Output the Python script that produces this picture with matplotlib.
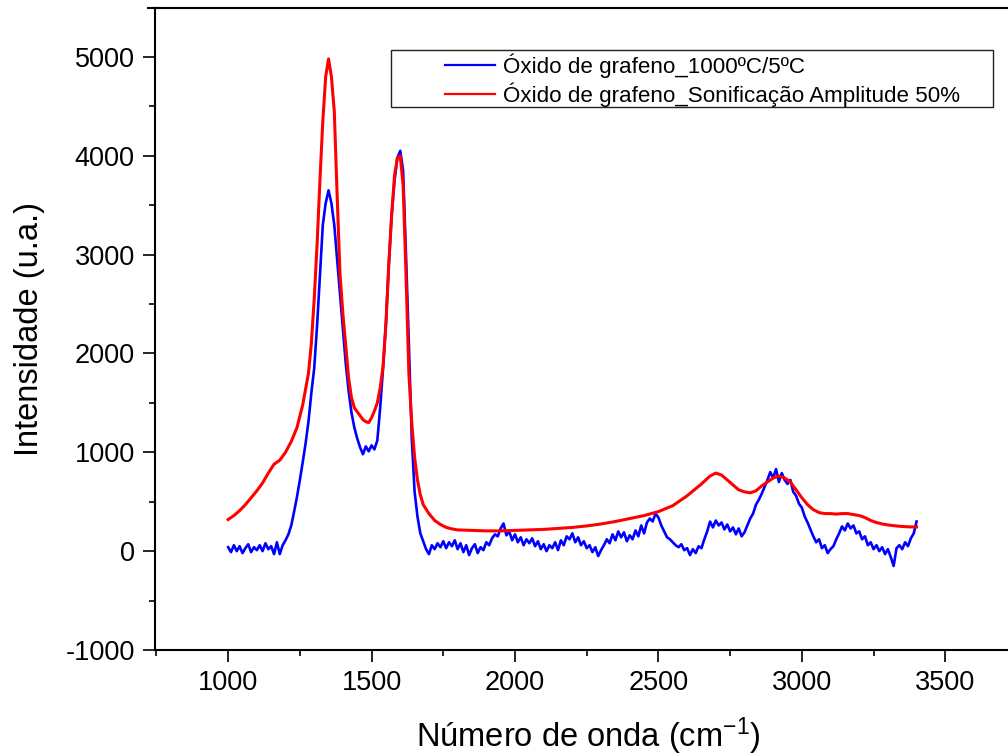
import numpy as np
import matplotlib
matplotlib.use("Agg")
import matplotlib.pyplot as plt
from matplotlib.patches import Rectangle
from matplotlib.lines import Line2D
from matplotlib.ticker import MultipleLocator

plt.rcParams['font.family'] = ['Liberation Sans', 'DejaVu Sans']
plt.rcParams['mathtext.fontset'] = 'custom'
plt.rcParams['mathtext.rm'] = 'Liberation Sans'
plt.rcParams['mathtext.it'] = 'Liberation Sans'
plt.rcParams['mathtext.bf'] = 'Liberation Sans'
plt.rcParams['axes.unicode_minus'] = False

# ---- data ----
label_blue = "Óxido de grafeno_1000ºC/5ºC"
label_red = "Óxido de grafeno_Sonificação Amplitude 50%"

blue_wavenumber = np.arange(1000, 3401, 10)
blue_intensity = [
    40, -10, 60, 0, 50, -20, 30, 70, -10, 40,
    10, 60, 0, 80, 20, 50, -30, 90, -30, 60,
    110, 170, 260, 400, 550, 720, 900, 1090, 1310, 1600,
    1850, 2280, 2800, 3300, 3520, 3650, 3520, 3300, 2950, 2600,
    2250, 1900, 1620, 1400, 1250, 1140, 1050, 980, 1060, 1010,
    1070, 1030, 1120, 1450, 1850, 2300, 2900, 3400, 3750, 3980,
    4050, 3850, 3000, 2100, 1150, 600, 350, 180, 100, 20,
    -30, 60, 20, 80, 40, 100, 30, 90, 50, 110,
    20, 80, -10, 60, -40, 30, 70, -20, 40, 10,
    90, 60, 130, 170, 150, 230, 280, 160, 200, 110,
    170, 90, 140, 60, 120, 80, 130, 50, 100, 20,
    70, 0, 60, 30, 90, 10, 110, 60, 150, 120,
    180, 90, 140, 60, 100, 30, 60, -10, 40, -50,
    10, 60, 120, 80, 170, 110, 200, 140, 190, 100,
    160, 120, 210, 150, 260, 180, 290, 330, 300, 380,
    340, 260, 200, 140, 120, 90, 60, 40, 70, 10,
    30, -40, 20, -20, 50, 30, 120, 200, 300, 240,
    310, 260, 290, 220, 270, 200, 240, 170, 230, 150,
    190, 260, 330, 380, 470, 520, 580, 650, 720, 800,
    740, 830, 700, 790, 720, 680, 720, 600, 560, 480,
    440, 350, 290, 220, 150, 90, 120, 30, 60, -20,
    20, 50, 120, 180, 250, 210, 280, 230, 260, 180,
    200, 120, 150, 60, 90, 20, 60, 0, 40, -30,
    20, -60, -150, 30, 60, 20, 90, 50, 130, 180,
    300,
]

red_wavenumber = [
    1000, 1020, 1040, 1060, 1080, 1100, 1120, 1140, 1160, 1180,
    1200, 1220, 1240, 1260, 1280, 1290, 1300, 1310, 1320, 1330, 1340,
    1350, 1360, 1370, 1380, 1390, 1400, 1410, 1420, 1430, 1440,
    1450, 1460, 1470, 1480, 1490, 1500, 1510, 1520, 1530, 1540,
    1550, 1560, 1570, 1580, 1590, 1600, 1610, 1620, 1630, 1640,
    1650, 1660, 1670, 1680, 1700, 1720, 1740, 1760, 1780, 1800,
    1850, 1900, 1950, 2000, 2050, 2100, 2150, 2200, 2250, 2300,
    2350, 2400, 2450, 2500, 2550, 2600, 2650, 2680, 2700, 2720,
    2740, 2760, 2780, 2800, 2820, 2840, 2860, 2880, 2900, 2920,
    2940, 2960, 2980, 3000, 3020, 3040, 3060, 3080, 3100, 3120,
    3140, 3160, 3180, 3200, 3220, 3240, 3260, 3280, 3300, 3320,
    3340, 3360, 3380, 3400,
]
red_intensity = [
    320, 360, 410, 470, 540, 610, 690, 790, 880, 920,
    1000, 1110, 1250, 1480, 1800, 2100, 2550, 3100, 3750, 4350, 4800,
    4980, 4800, 4450, 3600, 2800, 2400, 2080, 1750, 1550, 1450,
    1410, 1370, 1330, 1310, 1300, 1350, 1420, 1500, 1650, 1870,
    2300, 2900, 3400, 3800, 3980, 4000, 3700, 2800, 1800, 1300,
    950, 720, 570, 470, 380, 310, 270, 240, 225, 215,
    210, 205, 205, 210, 215, 220, 230, 240, 255, 275,
    300, 330, 360, 400, 460, 560, 680, 760, 790, 770,
    720, 670, 620, 600, 590, 610, 660, 700, 740, 760,
    740, 700, 620, 540, 470, 420, 390, 380, 380, 375,
    380, 380, 370, 360, 340, 310, 290, 275, 265, 258,
    252, 248, 245, 245,
]

# ---- figure ----
W, H = 1008, 756
fig = plt.figure(figsize=(W / 100, H / 100), dpi=100)
ax_left, ax_right, ax_top, ax_bottom = 155, 1021, 7.5, 650
ax = fig.add_axes([ax_left / W, 1 - ax_bottom / H,
                   (ax_right - ax_left) / W, (ax_bottom - ax_top) / H])

ax.plot(blue_wavenumber, blue_intensity, color='#0000ff', lw=1.9, label=label_blue)
ax.plot(red_wavenumber, red_intensity, color='#ff0000', lw=2.2, label=label_red)

ax.set_xlim(745, 3764)
ax.set_ylim(-1000, 5500)
ax.xaxis.set_major_locator(MultipleLocator(500))
ax.xaxis.set_minor_locator(MultipleLocator(250))
ax.yaxis.set_major_locator(MultipleLocator(1000))
ax.yaxis.set_minor_locator(MultipleLocator(500))
ax.set_xticks([1000, 1500, 2000, 2500, 3000, 3500])

for s in ax.spines.values():
    s.set_linewidth(1.5)
ax.spines['right'].set_visible(False)
ax.tick_params(which='major', direction='out', length=8.6, width=1.2,
               labelsize=19.5, top=False, right=False, pad=6)
ax.tick_params(which='minor', direction='out', length=4.3, width=1.2,
               top=False, right=False)

ax.set_xlabel("Número de onda (cm$^{-1}$)", fontsize=23.5, labelpad=14)
ax.set_ylabel("Intensidade (u.a.)", fontsize=23.5, labelpad=15)

# extension of the top frame line to the left (as in the reference)
fig.add_artist(Line2D([148 / W, 160 / W], [1 - 7.5 / H, 1 - 7.5 / H],
                      transform=fig.transFigure, color='black', lw=1.5))

# legend (box drawn separately)
leg = ax.legend(loc='upper left', bbox_to_anchor=(445 / W, 1 - 53 / H),
                bbox_transform=fig.transFigure, frameon=False, fontsize=16.1,
                handlelength=2.23, handletextpad=0.36, borderpad=0,
                borderaxespad=0, labelspacing=0.22)
for h in leg.get_lines():
    h.set_linewidth(1.6)
fig.add_artist(Rectangle((391 / W, 1 - 107 / H), 602 / W, 57 / H,
                         transform=fig.transFigure, fill=False,
                         edgecolor='#222222', lw=1.0))

fig.savefig("out.png", dpi=100)
